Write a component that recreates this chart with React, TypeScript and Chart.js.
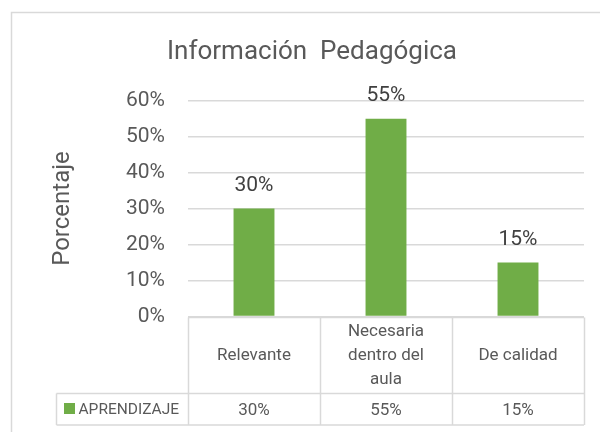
import React, { useEffect, useRef } from "react";
import { Chart, registerables } from "chart.js";

Chart.register(...registerables);

const TITLE = "Información  Pedagógica";
const Y_TITLE = "Porcentaje";
const SERIES_NAME = "APRENDIZAJE";
const categories = ["Relevante", "Necesaria dentro del aula", "De calidad"];
const values = [30, 55, 15];
const yTickMin = 0;
const yTickMax = 60;
const yTickStep = 10;

const FONT = "Roboto, 'Open Sans', sans-serif";
const GREEN = "#70AD47";
const GRID = "#d9d9d9";
const TEXT = "#595959";
const LABEL = "#404040";

const pct = (v: number) => `${v}%`;

function wrap(ctx: CanvasRenderingContext2D, text: string, maxW: number): string[] {
  const words = text.split(" ");
  const lines: string[] = [];
  let cur = "";
  for (const w of words) {
    const test = cur ? cur + " " + w : w;
    if (cur && ctx.measureText(test).width > maxW) {
      lines.push(cur);
      cur = w;
    } else {
      cur = test;
    }
  }
  if (cur) lines.push(cur);
  return lines;
}

const framePlugin = {
  id: "frame",
  beforeDraw(chart: any) {
    const ctx = chart.ctx as CanvasRenderingContext2D;
    ctx.save();
    ctx.fillStyle = "#ffffff";
    ctx.fillRect(0, 0, chart.width, chart.height);
    ctx.strokeStyle = GRID;
    ctx.lineWidth = 1.5;
    ctx.strokeRect(11.5, 12.5, 1000, 1000);
    ctx.restore();
  },
};

const labelsPlugin = {
  id: "barLabels",
  afterDatasetsDraw(chart: any) {
    const ctx = chart.ctx as CanvasRenderingContext2D;
    const meta = chart.getDatasetMeta(0);
    ctx.save();
    ctx.font = `21px ${FONT}`;
    ctx.fillStyle = LABEL;
    ctx.textAlign = "center";
    ctx.textBaseline = "alphabetic";
    meta.data.forEach((bar: any, i: number) => {
      ctx.fillText(pct(values[i]), bar.x, bar.y - 18);
    });
    ctx.restore();
  },
};

const tablePlugin = {
  id: "dataTable",
  afterDraw(chart: any) {
    const ctx = chart.ctx as CanvasRenderingContext2D;
    const area = chart.chartArea;
    const xs = chart.scales.x;
    const n = categories.length;
    const colW = (area.right - area.left) / n;
    const top = Math.round(area.bottom) + 0.5;
    const headH = 76;
    const rowH = 31.5;
    const mid = top + headH;
    const bottom = mid + rowH;
    const legendLeft = 56.5;

    ctx.save();
    ctx.strokeStyle = GRID;
    ctx.lineWidth = 1.5;
    ctx.beginPath();
    ctx.moveTo(area.left, top);
    ctx.lineTo(area.right, top);
    ctx.moveTo(legendLeft, mid);
    ctx.lineTo(area.right, mid);
    ctx.moveTo(legendLeft, bottom);
    ctx.lineTo(area.right, bottom);
    for (let i = 0; i <= n; i++) {
      const x = Math.round(area.left + i * colW) + 0.5;
      ctx.moveTo(x, top);
      ctx.lineTo(x, bottom);
    }
    ctx.moveTo(legendLeft, mid);
    ctx.lineTo(legendLeft, bottom);
    ctx.stroke();

    ctx.font = `17px ${FONT}`;
    ctx.fillStyle = TEXT;
    ctx.textAlign = "center";
    ctx.textBaseline = "middle";
    const lineH = 24;
    categories.forEach((c, i) => {
      const cx = xs.getPixelForValue(i);
      const lines = wrap(ctx, c, colW - 30);
      const cy = (top + mid) / 2;
      const start = cy - ((lines.length - 1) * lineH) / 2;
      lines.forEach((l, j) => ctx.fillText(l, cx, start + j * lineH));
    });

    const vy = (mid + bottom) / 2 + 1;
    values.forEach((v, i) => {
      ctx.fillText(pct(v), xs.getPixelForValue(i), vy);
    });

    ctx.fillStyle = GREEN;
    ctx.fillRect(64, 403, 11, 11);
    ctx.fillStyle = TEXT;
    ctx.textAlign = "left";
    ctx.font = `15.5px ${FONT}`;
    ctx.fillText(SERIES_NAME, 78.5, vy);
    ctx.restore();
  },
};

export default function App() {
  const ref = useRef<HTMLCanvasElement | null>(null);

  useEffect(() => {
    if (!ref.current) return;
    const chart = new Chart(ref.current, {
      type: "bar",
      data: {
        labels: categories,
        datasets: [
          {
            label: SERIES_NAME,
            data: values,
            backgroundColor: GREEN,
            borderWidth: 0,
            categoryPercentage: 1,
            barPercentage: 0.31,
          },
        ],
      },
      options: {
        responsive: false,
        animation: false,
        devicePixelRatio: 1,
        layout: { padding: { left: 40, right: 16, top: 0, bottom: 115.5 } },
        plugins: {
          legend: { display: false },
          tooltip: { enabled: false },
          title: {
            display: true,
            text: TITLE,
            color: TEXT,
            font: { family: FONT, size: 26, weight: "normal" },
            padding: { top: 37, bottom: 32.5 },
          },
        },
        scales: {
          x: { display: false },
          y: {
            min: yTickMin,
            max: yTickMax,
            ticks: {
              stepSize: yTickStep,
              callback: (v: any) => pct(Number(v)),
              color: TEXT,
              font: { family: FONT, size: 21 },
              padding: 23,
            },
            grid: { color: GRID, lineWidth: 1.5, drawTicks: false },
            border: { display: false },
            title: {
              display: true,
              text: Y_TITLE,
              color: TEXT,
              font: { family: FONT, size: 24 },
              padding: { top: 8.4, bottom: 0 },
            },
            afterFit: (s: any) => {
              s.width = 148;
            },
          },
        },
      },
      plugins: [framePlugin, labelsPlugin, tablePlugin],
    } as any);
    return () => chart.destroy();
  }, []);

  return (
    <div style={{ position: "fixed", left: 0, top: 0, width: 600, height: 432, background: "#fff" }}>
      <canvas ref={ref} width={600} height={432} />
    </div>
  );
}
